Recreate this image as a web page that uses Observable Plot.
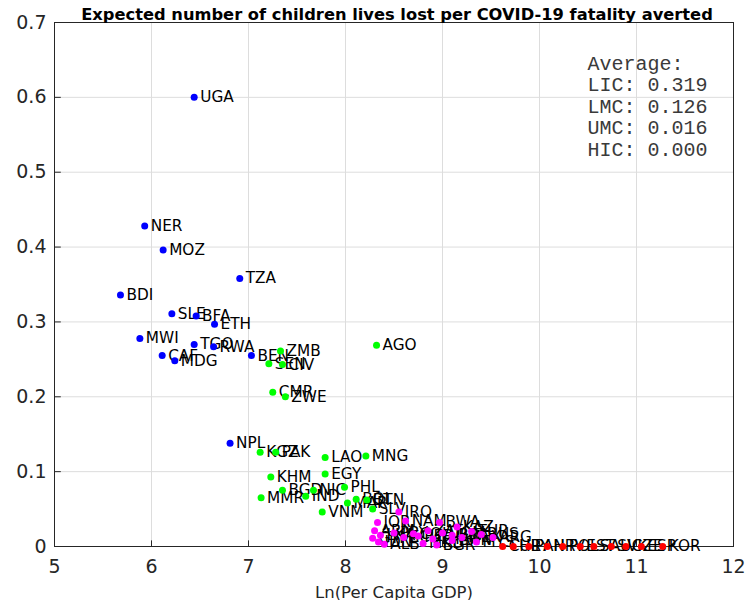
<!DOCTYPE html>
<html><head><meta charset="utf-8">
<script src="https://cdn.jsdelivr.net/npm/d3@7"></script>
<script src="https://cdn.jsdelivr.net/npm/@observablehq/plot@0.6"></script>
<style>body{margin:0;background:#fff;} svg{display:block}</style>
</head><body><div id="chart"></div>
<script>
// Low-income countries
const licCodes = ["UGA","NER","MOZ","TZA","BDI","SLE","BFA","ETH","MWI","TGO","RWA","CAF","MDG","BEN","NPL"];
const licLnGdp = [6.44,5.93,6.12,6.91,5.68,6.21,6.46,6.65,5.88,6.44,6.64,6.11,6.24,7.03,6.81];
const licValue = [0.600,0.428,0.396,0.358,0.336,0.311,0.308,0.297,0.278,0.270,0.267,0.255,0.248,0.255,0.138];
// Lower-middle-income countries
const lmcCodes = ["ZMB","SEN","CIV","AGO","CMR","ZWE","KGZ","PAK","LAO","MNG","EGY","KHM","PHL","BGD","NIC","MMR","IND","VNM","MAR","BOL","BTN","SLV"];
const lmcLnGdp = [7.33,7.21,7.35,8.32,7.25,7.38,7.12,7.28,7.79,8.21,7.79,7.23,7.99,7.35,7.67,7.13,7.59,7.76,8.02,8.11,8.22,8.28];
const lmcValue = [0.261,0.244,0.243,0.269,0.206,0.200,0.126,0.126,0.119,0.121,0.097,0.093,0.079,0.075,0.075,0.065,0.067,0.046,0.058,0.063,0.062,0.050];
// Upper-middle-income countries
const umcCodes = ["IRQ","JOR","NAM","BWA","KAZ","ARG","BGR","GTM","ARM","LKA","IDN","ALB","PRY","ECU","PER","COL","ZAF","THA","DOM","MKD","BRA","MEX","CHN","TUR","RUS","MYS"];
const umcLnGdp = [8.55,8.33,8.62,8.97,9.15,9.52,8.94,8.28,8.30,8.36,8.34,8.40,8.50,8.60,8.75,8.70,8.85,8.90,9.00,8.80,9.10,9.20,9.10,9.30,9.40,9.35];
const umcValue = [0.046,0.032,0.034,0.032,0.026,0.012,0.002,0.011,0.021,0.015,0.006,0.003,0.018,0.012,0.014,0.017,0.021,0.010,0.018,0.004,0.015,0.012,0.008,0.020,0.016,0.006];
// High-income countries
const hicCodes = ["CHL","URY","PAN","HRV","POL","EST","SAU","SVK","CZE","ESP","KOR"];
const hicLnGdp = [9.62,9.73,9.89,10.08,10.24,10.42,10.56,10.74,10.89,11.05,11.27];
const hicValue = [0,0,0,0,0,0,0,0,0,0,0];

const groupNames = ["LIC","LMC","UMC","HIC"];
const groupColors = ["#0000ff","#00ff00","#ff00ff","#ff0000"];
const averages = ["0.319","0.126","0.016","0.000"];

const xTicks = [5,6,7,8,9,10,11,12];
const yTicks = [0,0.1,0.2,0.3,0.4,0.5,0.6,0.7];
const titleText = "Expected number of children lives lost per COVID-19 fatality averted";
const xLabel = "Ln(Per Capita GDP)";

const series = [
  [licCodes, licLnGdp, licValue],
  [lmcCodes, lmcLnGdp, lmcValue],
  [umcCodes, umcLnGdp, umcValue],
  [hicCodes, hicLnGdp, hicValue]
];
const points = series.flatMap(([c, x, y], gi) => c.map((code, i) => ({code, lngdp: x[i], value: y[i], group: groupNames[gi]})));
const avgText = ["Average:", ...groupNames.map((g, i) => `${g}: ${averages[i]}`)].join("\n");

const chart = Plot.plot({
  width: 747, height: 600,
  marginLeft: 54, marginRight: 14, marginTop: 22, marginBottom: 54,
  x: {domain: [5, 12]},
  y: {domain: [0, 0.7]},
  color: {domain: groupNames, range: groupColors},
  style: {fontFamily: "DejaVu Sans", background: "#fff", color: "#262626"},
  marks: [
    Plot.gridX(xTicks, {stroke: "#dddddd", strokeOpacity: 1}),
    Plot.gridY(yTicks, {stroke: "#dddddd", strokeOpacity: 1}),
    Plot.ruleX(xTicks, {x: d => d, y1: 0, y2: 0.0075, stroke: "#262626"}),
    Plot.ruleY(yTicks, {y: d => d, x1: 5, x2: 5.07, stroke: "#262626"}),
    Plot.frame({stroke: "#262626"}),
    Plot.axisX(xTicks, {tickSize: 0, tickPadding: 13, fontSize: 19, label: null, tickFormat: d => String(d), fill: "#262626"}),
    Plot.axisY(yTicks, {tickSize: 0, tickPadding: 8, fontSize: 19, label: null, tickFormat: d => d === 0 ? "0" : d.toFixed(1), fill: "#262626"}),
    Plot.text(points, {x: "lngdp", y: "value", text: "code", textAnchor: "start", dx: 6, fontSize: 15.3, fill: "#000"}),
    Plot.dot(points, {x: "lngdp", y: "value", fill: "group", r: 3.5}),
    Plot.text([titleText], {frameAnchor: "top", dx: 3, dy: -14, fontSize: 16.3, fontWeight: "bold", fill: "#000"}),
    Plot.text([xLabel], {frameAnchor: "bottom", dy: 51, fontSize: 16.5, fill: "#262626"}),
    Plot.text([avgText], {frameAnchor: "top-right", dx: -146, dy: 32, textAnchor: "start", lineAnchor: "top", lineHeight: 1.075, fontSize: 20, fontFamily: "Liberation Mono", fill: "#3a3a3a"})
  ]
});
document.getElementById("chart").append(chart);
</script>
</body></html>
